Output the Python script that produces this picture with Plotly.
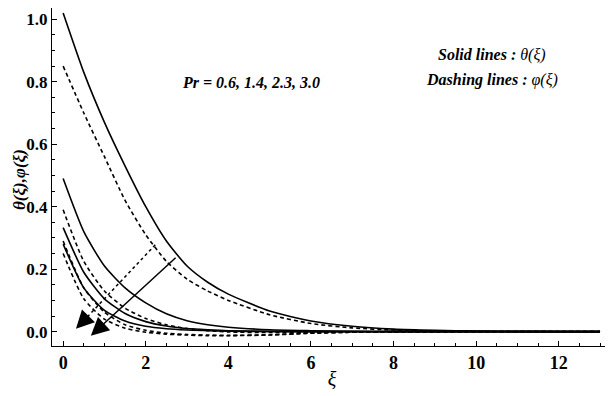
import plotly.graph_objects as go

# xi sample positions
xi = [0, 0.5, 1, 1.5, 2, 2.5, 3, 3.5, 4, 5, 6, 7, 8, 9, 10, 11, 12, 13]

# theta (solid) for Pr = 0.6, 1.4, 2.3, 3.0
theta_06 = [1.02, 0.83, 0.67, 0.53, 0.40, 0.29, 0.21, 0.158, 0.12, 0.066, 0.034, 0.017, 0.008, 0.004, 0.002, 0.001, 0.0005, 0.0]
theta_14 = [0.49, 0.32, 0.21, 0.14, 0.092, 0.057, 0.035, 0.022, 0.014, 0.006, 0.003, 0.001, 0.0, 0.0, 0.0, 0.0, 0.0, 0.0]
theta_23 = [0.333, 0.19, 0.105, 0.058, 0.032, 0.018, 0.01, 0.006, 0.003, 0.001, 0.0, 0.0, 0.0, 0.0, 0.0, 0.0, 0.0, 0.0]
theta_30 = [0.28, 0.14, 0.068, 0.034, 0.017, 0.009, 0.005, 0.003, 0.001, 0.0, 0.0, 0.0, 0.0, 0.0, 0.0, 0.0, 0.0, 0.0]

# phi (dashed) for Pr = 0.6, 1.4, 2.3, 3.0
phi_06 = [0.85, 0.70, 0.56, 0.42, 0.31, 0.225, 0.168, 0.13, 0.10, 0.054, 0.026, 0.012, 0.005, 0.002, 0.001, 0.0, 0.0, 0.0]
phi_14 = [0.39, 0.225, 0.13, 0.075, 0.042, 0.022, 0.01, 0.003, -0.001, -0.003, -0.002, -0.001, 0.0, 0.0, 0.0, 0.0, 0.0, 0.0]
phi_23 = [0.29, 0.14, 0.062, 0.022, 0.004, -0.005, -0.009, -0.011, -0.012, -0.01, -0.005, -0.002, 0.0, 0.0, 0.0, 0.0, 0.0, 0.0]
phi_30 = [0.25, 0.105, 0.04, 0.011, -0.002, -0.008, -0.011, -0.013, -0.013, -0.011, -0.005, -0.002, 0.0, 0.0, 0.0, 0.0, 0.0, 0.0]

x_ticks = [0, 2, 4, 6, 8, 10, 12]
y_ticks = [0.0, 0.2, 0.4, 0.6, 0.8, 1.0]
y_tick_labels = ["0.0", "0.2", "0.4", "0.6", "0.8", "1.0"]

fig = go.Figure()
for ys in [theta_06, theta_14, theta_23, theta_30]:
    fig.add_trace(go.Scatter(x=xi, y=ys, mode="lines", line=dict(color="black", width=1.6, shape="spline", smoothing=0.6), showlegend=False, hoverinfo="skip"))
for ys in [phi_06, phi_14, phi_23, phi_30]:
    fig.add_trace(go.Scatter(x=xi, y=ys, mode="lines", line=dict(color="black", width=1.6, dash="4px,3px", shape="spline", smoothing=0.6), showlegend=False, hoverinfo="skip"))

# dashed arrow shaft
fig.add_trace(go.Scatter(x=[2.23, 0.45], y=[0.278, 0.028], mode="lines", line=dict(color="black", width=1.5, dash="3px,3px"), showlegend=False, hoverinfo="skip"))

serif = "Times New Roman, Liberation Serif, serif"
# page body has an 8px default margin; figure sized so it fits the 613x396 window
fig.update_layout(
    width=605, height=388,
    margin=dict(l=44, r=1, t=0, b=50),
    paper_bgcolor="white", plot_bgcolor="white",
    xaxis=dict(range=[-0.27, 13.29], tickvals=x_ticks, ticks="inside", ticklen=5, tickwidth=1, tickcolor="black",
               showline=True, linecolor="black", linewidth=1, showgrid=False, zeroline=False, automargin=False,
               tickfont=dict(family=serif, size=18, color="black", weight="bold"),
               minor=dict(dtick=0.5, ticks="inside", ticklen=3, tickcolor="black"),
               title=dict(text="<i>ξ</i>", font=dict(family=serif, size=20, color="black"), standoff=0)),
    yaxis=dict(range=[-0.046, 1.036], tickvals=y_ticks, ticktext=y_tick_labels, ticks="inside", ticklen=5, tickwidth=1, tickcolor="black",
               showline=True, linecolor="black", linewidth=1, showgrid=False, zeroline=False, automargin=False,
               tickfont=dict(family=serif, size=17, color="black", weight="bold"),
               minor=dict(dtick=0.05, ticks="inside", ticklen=3, tickcolor="black")),
)

# y-axis title placed explicitly left of the tick labels
fig.add_annotation(x=0, y=0.491, xref="paper", yref="paper", xanchor="center", yanchor="middle", xshift=-33,
                   textangle=-90, showarrow=False,
                   text="<b><i>θ(ξ),φ(ξ)</i></b>", font=dict(family=serif, size=17, color="black"))

fig.add_annotation(x=0.67, y=-0.013, ax=2.76, ay=0.241, xref="x", yref="y", axref="x", ayref="y",
                   showarrow=True, arrowhead=2, arrowsize=2.4, arrowwidth=1.5, arrowcolor="black", text="")
fig.add_annotation(x=0.31, y=0.009, ax=0.5, ay=0.035, xref="x", yref="y", axref="x", ayref="y",
                   showarrow=True, arrowhead=2, arrowsize=2.4, arrowwidth=1.5, arrowcolor="black", text="")

fig.add_annotation(x=4.55, y=0.796, xref="x", yref="y", showarrow=False,
                   text="<b><i>Pr = 0.6, 1.4, 2.3, 3.0</i></b>", font=dict(family=serif, size=16, color="black"))
fig.add_annotation(x=10.38, y=0.886, xref="x", yref="y", showarrow=False,
                   text="<b><i>Solid lines : </i></b><i>θ(ξ)</i>", font=dict(family=serif, size=16, color="black"))
fig.add_annotation(x=10.38, y=0.806, xref="x", yref="y", showarrow=False,
                   text="<b><i>Dashing lines : </i></b><i>φ(ξ)</i>", font=dict(family=serif, size=16, color="black"))

fig.write_html("out.html")
